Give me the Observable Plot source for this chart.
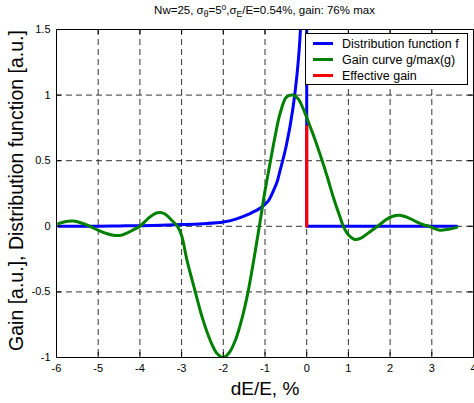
<!DOCTYPE html>
<html><head><meta charset="utf-8">
<script src="https://cdn.jsdelivr.net/npm/d3@7"></script>
<script src="https://cdn.jsdelivr.net/npm/@observablehq/plot@0.6"></script>
<style>body{margin:0;background:#fff;overflow:hidden;}</style>
</head><body><div id="chart"></div>
<script>
const FONT = "'Liberation Sans', Arial, Helvetica, sans-serif";
const xTicks = [-6,-5,-4,-3,-2,-1,0,1,2,3,4];
const yTicks = [-1,-0.5,0,0.5,1,1.5];

// Distribution function f (blue)
const distX = [-5.95,-5,-4.5,-4,-3.5,-3,-2.5,-2,-1.7,-1.36,-1.12,-0.93,-0.8,-0.72,-0.646,-0.486,-0.33,-0.21,-0.15,-0.1,-0.05,0];
const distF = [0,0.001,0.003,0.005,0.008,0.013,0.02,0.033,0.055,0.097,0.137,0.19,0.27,0.33,0.415,0.62,0.9,1.23,1.5,1.9,2.6,3.5];
const stepX = [0, 0, 3.6];
const stepF = [3.5, 0, 0];

// Gain curve g/max(g) (green)
const gainX = [-5.95,-5.8,-5.6,-5.4,-5.2,-5.0,-4.8,-4.6,-4.45,-4.3,-4.15,-4.0,-3.8,-3.65,-3.5,-3.38,-3.25,-3.1,-3.0,-2.87,-2.68,-2.5,-2.3,-2.15,-2.0,-1.85,-1.7,-1.55,-1.4,-1.25,-1.12,-1.0,-0.885,-0.75,-0.646,-0.486,-0.33,-0.2,-0.09,0,0.07,0.19,0.35,0.5,0.65,0.8,0.88,1.0,1.15,1.3,1.5,1.7,1.9,2.05,2.22,2.4,2.6,2.8,2.94,3.05,3.2,3.4,3.6];
const gainG = [0.02,0.035,0.04,0.025,0.0,-0.03,-0.055,-0.07,-0.068,-0.05,-0.025,0.0,0.06,0.095,0.105,0.09,0.05,0.0,-0.07,-0.26,-0.49,-0.7,-0.88,-0.97,-1.0,-0.96,-0.86,-0.7,-0.49,-0.22,0.03,0.27,0.47,0.7,0.85,0.985,1.0,0.97,0.9,0.83,0.77,0.67,0.52,0.37,0.21,0.07,0.0,-0.065,-0.1,-0.09,-0.045,0.0,0.05,0.075,0.085,0.07,0.04,0.012,0.0,-0.015,-0.03,-0.022,-0.008];

// Effective gain (red)
const effX = [0, 0];
const effG = [0, 0.76];

const legendLabels = ["Distribution function f", "Gain curve g/max(g)", "Effective gain"];
const legendColors = ["#0000ff", "#008000", "#ff0000"];

const W = 474, H = 403, mL = 56, mR = 1, mT = 29, mB = 46;
const fw = W - mL - mR, fh = H - mT - mB;
const zip = (xs, ys) => xs.map((x, i) => ({x, y: ys[i]}));
const fmt = d => String(d);

const plot = Plot.plot({
  width: W, height: H,
  marginLeft: mL, marginRight: mR, marginTop: mT, marginBottom: mB,
  style: {fontFamily: FONT, fontSize: "11px", color: "black", background: "white"},
  x: {domain: [-6, 4]},
  y: {domain: [-1, 1.5]},
  marks: [
    Plot.ruleX(xTicks, {stroke: "#000", strokeOpacity: 0.8, strokeDasharray: "6,4"}),
    Plot.ruleY(yTicks, {stroke: "#000", strokeOpacity: 0.8, strokeDasharray: "6,4"}),
    Plot.line(zip(distX, distF), {x: "x", y: "y", stroke: legendColors[0], strokeWidth: 3, curve: "catmull-rom", clip: true}),
    Plot.line(zip(stepX, stepF), {x: "x", y: "y", stroke: legendColors[0], strokeWidth: 3, clip: true}),
    Plot.line(zip(gainX, gainG), {x: "x", y: "y", stroke: legendColors[1], strokeWidth: 3, curve: "catmull-rom", clip: true}),
    Plot.line(zip(effX, effG), {x: "x", y: "y", stroke: legendColors[2], strokeWidth: 3}),
    Plot.frame({stroke: "black", strokeWidth: 1}),
    Plot.ruleX(xTicks, {stroke: "black", insetTop: fh - 5}),
    Plot.ruleX(xTicks, {stroke: "black", insetBottom: fh - 5}),
    Plot.ruleY(yTicks, {stroke: "black", insetRight: fw - 5}),
    Plot.ruleY(yTicks, {stroke: "black", insetLeft: fw - 5}),
    Plot.axisX({ticks: xTicks, tickSize: 0, tickPadding: 7, tickFormat: fmt, label: null, fontSize: 11}),
    Plot.axisY({ticks: yTicks, tickSize: 0, tickPadding: 6, tickFormat: fmt, label: null, fontSize: 11}),
    Plot.text(["dE/E, %"], {text: d => d, frameAnchor: "bottom", textAnchor: "middle", dy: 37, fontSize: 19}),
    Plot.text(["Gain [a.u.], Distribution function [a.u.]"], {text: d => d, frameAnchor: "left", textAnchor: "middle", dx: -40, dy: -3, rotate: -90, fontSize: 19.5})
  ]
});

const NS = "http://www.w3.org/2000/svg";
function el(parent, name, attrs, txt) {
  const e = document.createElementNS(NS, name);
  for (const k in attrs) e.setAttribute(k, attrs[k]);
  if (txt != null) e.textContent = txt;
  parent.appendChild(e);
  return e;
}

// Title with sub/superscripts
const t = el(plot, "text", {x: mL + fw / 2, y: 14, "text-anchor": "middle", "font-size": 11.5, "font-family": FONT, fill: "black"});
el(t, "tspan", {}, "Nw=25, σ");
el(t, "tspan", {dy: 3, "font-size": 8.5}, "θ");
el(t, "tspan", {dy: -3}, "=5");
el(t, "tspan", {dy: -4, "font-size": 8.5}, "o");
el(t, "tspan", {dy: 4}, ",σ");
el(t, "tspan", {dy: 3, "font-size": 8.5}, "E");
el(t, "tspan", {dy: -3}, "/E=0.54%, gain: 76% max");

// Legend
const lg = el(plot, "g", {"font-family": FONT, "font-size": 12.5, "text-anchor": "start"});
el(lg, "rect", {x: 305.5, y: 33.5, width: 162, height: 51, fill: "white", stroke: "black", "stroke-width": 1});
legendLabels.forEach((lab, i) => {
  const yy = 43.5 + i * 16;
  el(lg, "line", {x1: 313, x2: 333, y1: yy, y2: yy, stroke: legendColors[i], "stroke-width": 3});
  el(lg, "text", {x: 342, y: yy + 4.5, fill: "black"}, lab);
});

document.getElementById("chart").appendChild(plot);
</script>
</body></html>
